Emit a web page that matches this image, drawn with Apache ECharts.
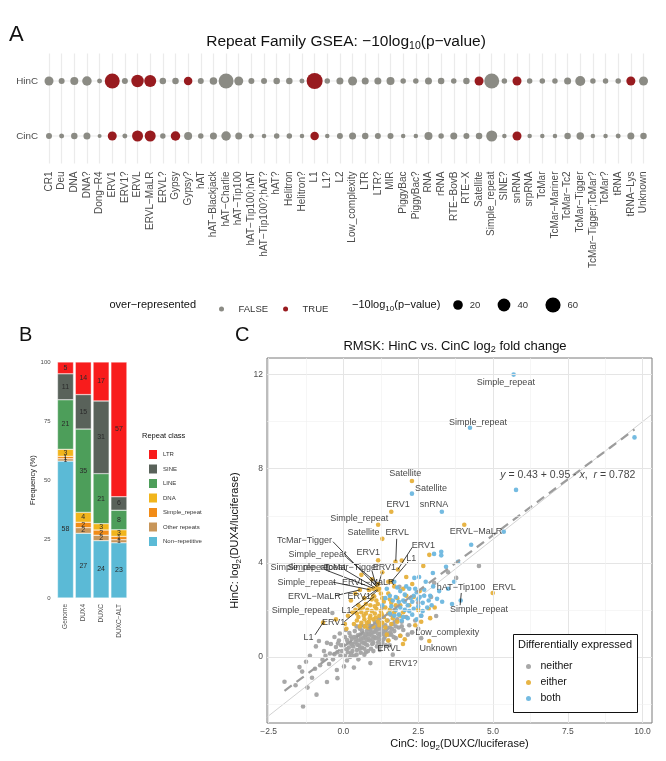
<!DOCTYPE html>
<html><head><meta charset="utf-8">
<script src="https://cdn.jsdelivr.net/npm/echarts@6/dist/echarts.min.js"></script>
<style>html,body{margin:0;padding:0;background:#fff}#c{width:666px;height:761px}</style>
</head><body><div id="c"></div><script>
const FONT = '"Liberation Sans", Arial, Helvetica, sans-serif';

// ---------- Panel A data ----------
const families = ['CR1','Deu','DNA','DNA?','Dong−R4','ERV1','ERV1?','ERVL','ERVL−MaLR','ERVL?','Gypsy','Gypsy?','hAT','hAT−Blackjack','hAT−Charlie','hAT−Tip100','hAT−Tip100;hAT','hAT−Tip100?;hAT?','hAT?','Helitron','Helitron?','L1','L1?','L2','Low_complexity','LTR','LTR?','MIR','PiggyBac','PiggyBac?','RNA','rRNA','RTE−BovB','RTE−X','Satellite','Simple_repeat','SINE?','snRNA','srpRNA','TcMar','TcMar−Mariner','TcMar−Tc2','TcMar−Tigger','TcMar−Tigger;TcMar?','TcMar?','tRNA','tRNA−Lys','Unknown'];
const conditions = ['CinC','HinC'];
const hincScore = [17,5.5,12.5,19.5,3.1,58,5.5,38,35,7,7,14.6,5.5,10.5,58,17,5.5,5.5,7,7,3.1,68,4.2,8.7,17,8.7,8.7,12.5,4.2,4.2,8.7,7,4.2,7,17,58,4.2,17,4.2,4.2,4.2,8.7,22,4.2,4.2,4.2,17,17];
const hincOver  = [0,0,0,0,0,1,0,1,1,0,0,1,0,0,0,0,0,0,0,0,0,1,0,0,0,0,0,0,0,0,0,0,0,0,1,0,0,1,0,0,0,0,0,0,0,0,1,0];
const cincScore = [5.5,3.1,7,8.7,1.4,17,3.1,28,28,4.2,19.5,12.5,4.2,8.7,19.5,8.7,3.1,2.2,4.2,4.2,2.2,14.6,2.2,5.5,8.7,7,5.5,5.5,2.2,2.2,12.5,4.2,8.7,5.5,7,28,2.2,17,2.2,2.2,2.2,7,10.5,2.2,2.2,3.1,8.7,7];
const cincOver  = [0,0,0,0,0,1,0,1,1,0,1,0,0,0,0,0,0,0,0,0,0,1,0,0,0,0,0,0,0,0,0,0,0,0,0,0,0,1,0,0,0,0,0,0,0,0,0,0];
const sizeBreaks = [20,40,60];

// ---------- Panel B data ----------
const samples = ['Genome','DUX4','DUXC','DUXC−ALT'];
const repeatClasses = ['Non−repetitive','Other repeats','Simple_repeat','DNA','LINE','SINE','LTR'];
const nonRepetitive = [58, 27.4, 24.3, 23.4];
const otherRepeats  = [1, 2.4, 2.3, 1.3];
const simpleRepeat  = [1, 2.3, 2.2, 1.4];
const dnaShare      = [3, 4.2, 2.7, 2.8];
const lineShare     = [21, 35.3, 21.2, 8.3];
const sineShare     = [11, 14.6, 30.8, 5.7];
const ltrShare      = [5, 13.8, 16.5, 57.1];

// ---------- Panel C data ----------
const neitherPts = [
[-1.97,-1.05],[-1.35,-2.1],[-1.47,-0.43],[-1.38,-0.62],[-1.05,-0.88],[-0.55,-1.06],[-0.92,0.45],[-0.82,0.68],[-1.12,0.05],[-0.65,0.25],[-0.48,-0.3],[-0.3,0.12],[-0.22,-0.55],[0.12,-0.15],[0.35,-0.45],[0.9,-0.26],[-0.7,-0.12],[-0.42,0.55],[-0.25,0.42],[-0.15,0.7],[-0.05,0.25],[0.0,0.5],[0.05,0.85],[0.1,0.33],[0.15,0.62],[0.2,1.02],[0.25,0.15],[0.28,0.76],[0.32,0.45],[0.38,1.1],
[0.4,0.63],[0.45,0.3],[0.48,0.92],[0.52,0.5],[0.55,1.2],[0.58,0.77],[0.62,0.4],[0.65,1.0],[0.68,0.6],[0.7,1.3],[0.72,0.86],[0.75,0.2],[0.78,1.1],[0.8,0.5],[0.82,0.96],[0.85,1.4],[0.88,0.7],[0.9,1.15],[0.92,0.35],[0.95,0.9],[0.98,1.25],[1.0,0.6],[1.02,1.05],[1.05,1.5],[1.08,0.8],[1.1,1.3],[1.12,0.45],[1.15,1.0],[1.18,1.6],[1.2,0.75],
[1.22,1.2],[1.25,0.95],[1.28,1.45],[1.3,0.6],[1.32,1.1],[1.35,1.7],[1.38,0.85],[1.4,1.35],[1.45,1.0],[1.48,1.55],[1.5,0.7],[1.55,1.25],[1.58,1.8],[1.6,0.95],[1.65,1.4],[1.7,1.1],[1.75,0.8],[1.8,1.6],[1.85,1.25],[1.9,0.9],[1.95,1.5],[2.0,1.15],[2.1,1.7],[2.2,1.35],[2.3,1.05],[2.4,1.55],[2.6,1.75],[2.29,1.04],[2.6,0.8],[1.65,0.1],
[-0.37,1.87],[4.53,3.87],[3.77,3.36],[3.5,3.6],[3.03,3.15],[3.1,1.74],[1.87,2.98],[2.93,2.55],[2.5,2.3],[1.3,2.1],
[-0.6,0.05],[-0.35,-0.1],[-0.1,0.05],[0.02,-0.4],[0.22,0.0],[0.44,0.1],[0.58,0.18],[0.3,0.25],[-0.55,0.6],[-0.3,0.85],[-0.12,1.0],[0.08,1.15],[0.18,0.4],[0.36,0.85],[0.5,0.7],[0.6,1.35],[0.66,0.8],[0.74,0.55],[0.84,0.78],[0.86,1.2],[0.96,0.55],[1.04,0.85],[1.06,1.25],[1.16,0.62],[1.24,1.0],[1.34,0.75],[1.42,1.15],[1.52,0.95],[1.62,1.2],[1.72,1.5],[1.12,1.45],[0.94,1.05],[0.76,0.95],[0.56,0.95],[0.46,0.52],[0.26,0.55],[0.12,0.72],[-0.08,0.5],[0.7,0.35],[1.0,0.25],[1.22,0.3],[1.42,0.5],[-0.78,-0.35],[-1.25,-0.2],[-0.95,-0.5],[0.5,-0.1],[1.95,1.3],[2.15,0.95],[1.75,1.3],[2.5,1.2],
[0.15,0.2],[0.3,0.55],[0.42,0.78],[0.55,0.35],[0.62,0.62],[0.78,0.72],[0.88,0.98],[0.98,0.75],[1.08,1.12],[1.18,0.88],[1.28,1.28],[1.36,0.98],[1.46,1.22],[0.35,0.05],[0.05,0.05],[-0.2,0.2],[-0.45,0.15],[0.62,1.12],[0.92,1.32],[1.14,1.18],[0.44,1.3],[0.24,0.88],[-0.18,0.58],[1.56,1.05],[1.68,0.85],[0.7,0.1],[0.82,0.25],[1.26,0.5],[1.55,0.5],[-1.6,-1.2],[-1.2,-1.3],[-0.9,-1.6],[-0.2,-0.9]
];
const eitherPts = [
[2.29,7.48],[1.6,6.17],[1.16,5.62],[1.3,5.02],[1.74,4.04],[1.16,4.11],[4.04,5.62],[4.99,2.72],[2.87,0.68],[1.99,0.55],
[2.67,3.87],[2.87,4.34],[0.6,3.49],[1.95,4.1],[0.95,3.3],[1.3,3.6],[1.5,3.2],[2.1,3.4],[2.3,3.1],[2.0,2.9],[1.7,3.0],
[0.85,2.85],[1.0,2.6],[1.2,2.9],[0.7,2.5],[0.5,2.2],[0.9,2.2],[1.1,2.4],[1.3,2.5],[1.5,2.7],[1.6,2.3],[1.8,2.5],[1.9,2.2],[2.1,2.6],[2.2,2.2],
[0.3,1.9],[0.4,2.0],[0.5,1.7],[0.6,1.9],[0.65,2.1],[0.7,1.6],[0.75,1.85],[0.8,2.0],[0.85,1.5],[0.9,1.75],[0.95,1.95],[1.0,1.6],[1.05,1.85],[1.1,2.05],[1.15,1.5],[1.2,1.75],[1.25,1.95],[1.3,1.45],[1.35,1.7],[1.4,2.1],[1.45,1.55],[1.5,1.85],[1.55,2.0],[1.6,1.4],[1.65,1.65],[1.7,1.9],[1.8,1.5],[1.9,1.75],[2.0,1.9],
[0.35,1.4],[0.45,1.55],[0.55,1.3],[0.6,1.45],[0.72,1.3],[0.82,1.25],[1.0,1.3],[1.2,1.35],[1.4,1.25],
[2.4,1.35],[2.6,1.5],[2.5,2.0],[2.85,2.05],[3.05,2.1],[2.9,1.65],[1.9,0.9],[2.05,0.75],[1.5,0.7],[2.35,2.55],[2.55,2.8],
[-0.25,1.6],[0.05,1.4],[0.15,1.75],[0.1,1.2],[0.25,2.4],[0.4,2.7],[1.45,0.95],
[1.1,2.95],[1.0,2.9],[0.87,2.86],[1.15,2.85],[1.03,2.57],[1.6,3.2],[1.16,3.1],[1.82,3.72],[-0.68,1.46],[0.55,2.85],
[0.45,1.85],[0.55,2.05],[0.75,2.25],[0.95,2.45],[1.15,2.25],[1.35,2.35],[1.25,2.7],[0.68,1.75],[0.88,1.65],[1.08,1.68],[1.28,1.82],[0.78,1.45],[1.55,2.45],[1.75,2.2],[1.05,2.15]
];
const bothPts = [
[5.69,12.0],[4.23,9.74],[9.73,9.33],[5.77,7.1],[2.29,6.94],[3.29,6.17],[5.36,5.32],[3.92,2.4],
[4.27,4.77],[3.27,4.47],[3.27,4.32],[3.03,4.38],[3.83,4.04],[3.43,3.83],[2.99,3.57],[2.53,3.4],[2.37,3.36],[1.7,3.2],[2.7,2.86],[3.13,2.47],[3.3,2.35],[3.63,2.25],[3.5,2.9],[3.7,3.2],
[1.9,2.8],[2.05,2.65],[2.2,2.9],[2.35,2.6],[2.45,2.75],[1.75,2.55],[1.85,2.35],[2.0,2.4],[2.15,2.2],[2.3,2.35],[2.5,2.45],[2.65,2.3],[1.6,2.15],[1.75,2.0],[1.9,2.1],[2.05,2.0],[2.2,1.95],[2.35,2.05],[2.5,2.15],[2.65,1.95],[2.8,2.1],[1.55,1.85],[1.7,1.75],[1.85,1.8],[2.0,1.7],[2.15,1.65],[2.3,1.8],[2.45,1.6],[1.95,1.55],[2.6,1.75],[1.4,2.5],[1.55,2.6],[1.3,2.2],[2.9,2.6],[3.0,3.0],[2.75,3.2],[1.45,2.9],[2.1,3.0],
[2.25,2.5],[2.4,2.9],[1.8,2.95],[2.55,2.55],[2.05,2.35],[1.65,2.4],[2.7,2.6],[2.85,2.4],[3.2,2.8],[2.95,2.2]
];
const fitEnds = [[-1.97,-1.44],[9.73,9.67]];
const identityEnds = [[-3,-3],[11,11]];
const fitText = ['0.43','0.95','0.782'];
// label layout: [text, labelX, labelY, segment (x1,y1,x2,y2) or null]
const labelLayout = [
['Simple_repeat',5.43,11.66,null],
['Simple_repeat',4.5,9.96,null],
['Satellite',2.07,7.79,null],
['Satellite',2.93,7.15,null],
['ERV1',1.83,6.47,null],
['snRNA',3.03,6.47,null],
['Simple_repeat',0.53,5.87,null],
['ERVL−MaLR',4.43,5.32,null],
['Satellite',0.67,5.28,null],
['ERVL',1.8,5.28,[1.78,5.02,1.75,4.08]],
['TcMar−Tigger',-1.3,4.94,[-0.35,4.9,1.1,3.0]],
['ERV1',2.67,4.72,[2.3,4.66,1.82,3.72]],
['Simple_repeat',-0.87,4.34,[0.1,4.23,1.16,3.1]],
['ERV1',0.83,4.43,null],
['L1',2.27,4.17,[2.16,4.04,1.6,3.2]],
['Simple_repeat',-1.47,3.79,[-0.6,3.7,1.0,2.92]],
['Simple_repeat',-0.9,3.79,[0.05,3.7,1.05,2.95]],
['TcMar−Tigger',0.27,3.79,[0.95,3.68,1.1,3.0]],
['ERV1',1.37,3.79,[1.3,3.62,1.15,3.0]],
['Simple_repeat',-1.23,3.15,[-0.35,3.18,0.87,2.86]],
['ERVL−MaLR',0.83,3.15,null],
['ERVL−MaLR',-0.97,2.55,[-0.28,2.6,0.55,2.85]],
['ERV1',0.53,2.55,[0.92,2.57,1.15,2.85]],
['Simple_repeat',-1.43,1.96,null],
['L1',0.1,1.96,[0.28,2.08,1.1,2.85]],
['ERV1',-0.33,1.45,[0.03,1.5,1.03,2.57]],
['L1',-1.17,0.81,[-0.95,0.94,-0.68,1.46]],
['hAT−Tip100',3.93,2.94,[3.94,2.72,3.9,2.2]],
['ERVL',5.37,2.94,null],
['Simple_repeat',4.53,2.0,null],
['Low_complexity',3.47,1.06,null],
['ERVL',1.53,0.38,null],
['Unknown',3.17,0.38,null],
['ERV1?',2.0,-0.26,null]
];
const eqAnchor = [7.5,7.74];
const xTicksC = [-2.5,0,2.5,5,7.5,10];
const yTicksC = [0,4,8,12];
const xMinorC = [-1.25,1.25,3.75,6.25,8.75];
const yMinorC = [-2,2,6,10];

// ---------- styles ----------
const sizeOf = v => 2 + 1.7 * Math.sqrt(v);
const GREY_A = '#8b8b84', RED_A = '#981b1f';
const classColor = {'LTR':'#f81c1c','SINE':'#59625a','LINE':'#4d9e5a','DNA':'#f1b51c','Simple_repeat':'#f28c17','Other repeats':'#c8965a','Non−repetitive':'#5bbad6'};
const classValues = {'Non−repetitive':nonRepetitive,'Other repeats':otherRepeats,'Simple_repeat':simpleRepeat,'DNA':dnaShare,'LINE':lineShare,'SINE':sineShare,'LTR':ltrShare};
const minus = s => String(s).replace('-', '−');

const chart = echarts.init(document.getElementById('c'), null, {renderer:'canvas', width:666, height:761});

const falsePts = [], truePts = [];
families.forEach((f,i) => {
  (hincOver[i] ? truePts : falsePts).push([f,'HinC',hincScore[i]]);
  (cincOver[i] ? truePts : falsePts).push([f,'CinC',cincScore[i]]);
});

const subRich = (fs) => ({ s: { fontSize: fs, lineHeight: fs, verticalAlign: 'bottom', fontFamily: FONT } });

const gridLineData = [];
xTicksC.forEach(v => gridLineData.push({xAxis: v, lineStyle:{color:'#e5e5e5', width:1, type:'solid'}}));
yTicksC.forEach(v => gridLineData.push({yAxis: v, lineStyle:{color:'#e5e5e5', width:1, type:'solid'}}));
xMinorC.forEach(v => gridLineData.push({xAxis: v, lineStyle:{color:'#f0f0f0', width:0.6, type:'solid'}}));
yMinorC.forEach(v => gridLineData.push({yAxis: v, lineStyle:{color:'#f0f0f0', width:0.6, type:'solid'}}));

const segData = labelLayout.filter(l => l[3]).map(l => ({coords: [[l[3][0], l[3][1]], [l[3][2], l[3][3]]]}));
const labelData = labelLayout.map(l => ({name: l[0], value: [l[1], l[2]]}));

const series = [];
conditions.forEach(c => series.push({
  type:'line', xAxisIndex:0, yAxisIndex:0, silent:true, symbol:'none', z:1,
  lineStyle:{color:'#ebebeb', width:1.2}, data: families.map(f => [f, c])
}));
series.push({type:'scatter', name:'FALSE', xAxisIndex:0, yAxisIndex:0, data: falsePts, symbolSize: v => sizeOf(v[2]), itemStyle:{color:GREY_A, opacity:1}, z:3});
series.push({type:'scatter', name:'TRUE', xAxisIndex:0, yAxisIndex:0, data: truePts, symbolSize: v => sizeOf(v[2]), itemStyle:{color:RED_A, opacity:1}, z:3});

repeatClasses.forEach(cls => series.push({
  type:'bar', name: cls, stack:'freq', xAxisIndex:1, yAxisIndex:1, barWidth:16,
  data: classValues[cls], itemStyle:{color: classColor[cls], borderColor:'#ffffff', borderWidth:0.4},
  label:{show:true, position:'inside', fontSize:7, fontFamily:FONT, color:'#2a2a2a', formatter: p => Math.round(p.value)}
}));

series.push({type:'line', xAxisIndex:2, yAxisIndex:2, data:[], silent:true, z:0,
  markLine:{silent:true, symbol:['none','none'], label:{show:false}, animation:false, data: gridLineData}});
series.push({type:'line', xAxisIndex:2, yAxisIndex:2, data: identityEnds, symbol:'none', silent:true, z:1, clip:true,
  lineStyle:{color:'#c6c6c6', width:0.8}});
series.push({type:'scatter', name:'neither', xAxisIndex:2, yAxisIndex:2, data: neitherPts, symbolSize:4.6, itemStyle:{color:'#a3a3a3', opacity:0.95}, z:2});
series.push({type:'scatter', name:'either', xAxisIndex:2, yAxisIndex:2, data: eitherPts, symbolSize:4.6, itemStyle:{color:'#e6b03b', opacity:0.95}, z:2});
series.push({type:'scatter', name:'both', xAxisIndex:2, yAxisIndex:2, data: bothPts, symbolSize:4.6, itemStyle:{color:'#6db7df', opacity:0.95}, z:2});
series.push({type:'line', xAxisIndex:2, yAxisIndex:2, data: fitEnds, symbol:'none', silent:true, z:3,
  lineStyle:{color:'#9c9c9c', width:2.2, type:[9,6]}});
series.push({type:'lines', coordinateSystem:'cartesian2d', xAxisIndex:2, yAxisIndex:2, data: segData, silent:true, z:4,
  lineStyle:{color:'#111', width:0.8, opacity:1}});
series.push({type:'scatter', xAxisIndex:2, yAxisIndex:2, data: labelData, symbolSize:1, silent:true, z:5,
  itemStyle:{color:'rgba(0,0,0,0)'},
  label:{show:true, position:'inside', formatter: p => p.name, fontSize:9, fontFamily:FONT, color:'#111'}});
series.push({type:'scatter', xAxisIndex:2, yAxisIndex:2, data:[{value: eqAnchor}], symbolSize:1, silent:true, z:5,
  itemStyle:{color:'rgba(0,0,0,0)'},
  label:{show:true, position:'inside', fontSize:10.5, fontFamily:FONT, color:'#111',
    formatter: '{i|y} = ' + fitText[0] + ' + ' + fitText[1] + ' · {i|x},  {i|r} = ' + fitText[2],
    rich:{i:{fontStyle:'italic', fontSize:10.5, fontFamily:FONT, color:'#111'}}}});

const graphic = [
  {type:'text', x:9, y:24, style:{text:'A', font:'22px '+FONT, fill:'#111'}},
  {type:'text', x:19, y:325, style:{text:'B', font:'20px '+FONT, fill:'#111'}},
  {type:'text', x:235, y:325, style:{text:'C', font:'20px '+FONT, fill:'#111'}},
  {type:'text', x:346, y:42, style:{text:'Repeat Family GSEA: −10log{s|10}(p−value)', font:'15.5px '+FONT, fill:'#111',
      align:'center', verticalAlign:'middle', textAlign:'center', lineHeight:20, rich: subRich(10.5)}},
  {type:'text', x:196, y:305, style:{text:'over−represented', font:'11px '+FONT, fill:'#111', align:'right', verticalAlign:'middle', textAlign:'right'}},
  {type:'text', x:352, y:305, style:{text:'−10log{s|10}(p−value)', font:'11px '+FONT, fill:'#111', align:'left', verticalAlign:'middle', lineHeight:15, rich: subRich(8)}},
  {type:'text', x:455, y:346, style:{text:'RMSK: HinC vs. CinC log{s|2} fold change', font:'13px '+FONT, fill:'#111',
      align:'center', verticalAlign:'middle', textAlign:'center', lineHeight:17, rich: subRich(9)}},
  {type:'text', x:142, y:436, style:{text:'Repeat class', font:'7.5px '+FONT, fill:'#111', verticalAlign:'middle'}},
  {type:'rect', z:10, shape:{x:513.5, y:634.5, width:124, height:78}, style:{fill:'#fff', stroke:'#111', lineWidth:1}},
  {type:'text', z:12, x:575, y:645, style:{text:'Differentially expressed', font:'11px '+FONT, fill:'#111', align:'center', verticalAlign:'middle', textAlign:'center'}}
];
const sizeLegendX = [458, 504, 553];
sizeBreaks.forEach((b, i) => {
  graphic.push({type:'circle', shape:{cx: sizeLegendX[i], cy:305, r: sizeOf(b)/2}, style:{fill:'#000'}});
  graphic.push({type:'text', x: sizeLegendX[i] + sizeOf(b)/2 + 7, y:305, style:{text:String(b), font:'9.5px '+FONT, fill:'#333', verticalAlign:'middle'}});
});

const axisTextA = {color:'#4d4d4d', fontFamily:FONT};

chart.setOption({
  animation:false,
  backgroundColor:'#fff',
  textStyle:{fontFamily:FONT},
  graphic: graphic,
  legend:[
    {data:['FALSE','TRUE'], left:214, top:299, orient:'horizontal', icon:'circle', itemWidth:24, itemHeight:5, itemGap:15,
     textStyle:{fontSize:9.5, color:'#333', fontFamily:FONT}, selectedMode:false},
    {data:['LTR','SINE','LINE','DNA','Simple_repeat','Other repeats','Non−repetitive'], left:142, top:443, orient:'vertical',
     icon:'rect', itemWidth:10, itemHeight:11, itemGap:1.5, textStyle:{fontSize:6, color:'#333', fontFamily:FONT}, selectedMode:false},
    {data:['neither','either','both'], left:521, top:656, orient:'vertical', icon:'circle', itemWidth:14, itemHeight:5, itemGap:5, z:11,
     textStyle:{fontSize:10.5, color:'#111', fontFamily:FONT}, selectedMode:false}
  ],
  grid:[
    {left:49, top:53.5, width:594.5, height:110},
    {left:56.6, top:362, width:71.2, height:236},
    {left:267, top:358, width:385, height:365, show:true, borderColor:'#7a7a7a', borderWidth:1, backgroundColor:'transparent'}
  ],
  xAxis:[
    {gridIndex:0, type:'category', data:families, boundaryGap:false,
     axisLine:{show:false}, axisTick:{show:false},
     axisLabel:Object.assign({interval:0, rotate:90, fontSize:10, margin:8}, axisTextA),
     splitLine:{show:true, interval:0, lineStyle:{color:'#ebebeb', width:1.2}}},
    {gridIndex:1, type:'category', data:samples, boundaryGap:true,
     axisLine:{show:false}, axisTick:{show:false},
     axisLabel:Object.assign({interval:0, rotate:90, fontSize:6.5, margin:6}, axisTextA), splitLine:{show:false}},
    {gridIndex:2, type:'value', min:-2.555, max:10.315,
     axisLine:{show:false}, splitLine:{show:false},
     axisTick:{show:true, length:3, customValues:xTicksC, lineStyle:{color:'#555'}},
     axisLabel:Object.assign({fontSize:8.5, margin:4, customValues:xTicksC, formatter: v => minus(v.toFixed(1))}, axisTextA),
     name:'CinC: log{s|2}(DUXC/luciferase)', nameLocation:'middle', nameGap:13,
     nameTextStyle:{fontSize:11, color:'#111', fontFamily:FONT, lineHeight:15, rich: subRich(8)}}
  ],
  yAxis:[
    {gridIndex:0, type:'category', data:conditions, boundaryGap:true,
     axisLine:{show:false}, axisTick:{show:false},
     axisLabel:Object.assign({fontSize:9.8, margin:11}, axisTextA), splitLine:{show:false}},
    {gridIndex:1, type:'value', min:0, max:100, interval:25,
     axisLine:{show:false}, axisTick:{show:false}, splitLine:{show:false},
     axisLabel:Object.assign({fontSize:6, margin:6}, axisTextA),
     name:'Frequency (%)', nameLocation:'middle', nameGap:17, nameTextStyle:{fontSize:7.6, color:'#222', fontFamily:FONT}},
    {gridIndex:2, type:'value', min:-2.805, max:12.705,
     axisLine:{show:false}, splitLine:{show:false},
     axisTick:{show:true, length:3, customValues:yTicksC, lineStyle:{color:'#555'}},
     axisLabel:Object.assign({fontSize:8.5, margin:4, customValues:yTicksC}, axisTextA),
     name:'HinC: log{s|2}(DUX4/luciferase)', nameLocation:'middle', nameGap:15,
     nameTextStyle:{fontSize:11, color:'#111', fontFamily:FONT, lineHeight:15, rich: subRich(8)}}
  ],
  series: series
});
</script></body></html>
